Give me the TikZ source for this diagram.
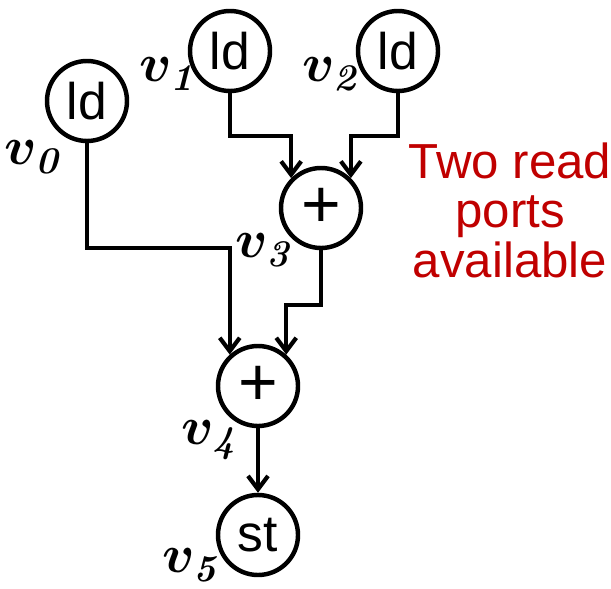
\RequirePackage{fix-cm}
\documentclass[tikz,border=0pt]{standalone}
\usepackage[no-math]{fontspec}
\setmainfont{Liberation Sans}
\usetikzlibrary{arrows.meta}
\definecolor{portred}{RGB}{192,0,0}
\begin{document}
\begin{tikzpicture}[x=0.03cm,y=-0.03cm,
  op/.style={draw,circle,line width=3.8pt,minimum size=2.4cm,inner sep=0pt,font=\fontsize{44}{44}\selectfont},
  plusop/.style={op,font=\fontsize{58}{58}\selectfont},
  lbl/.style={inner sep=0pt,font=\fontsize{46}{46}\selectfont\boldmath},
  arr/.style={line width=3.6pt,-{Straight Barb[length=0.4cm,width=0.6cm]}},
  note/.style={align=center,text=portred,inner sep=0pt,font=\fontsize{42}{42}\selectfont}]
\useasboundingbox (0,0) rectangle (611,589);
\node[op] (v0) at (87,101) {ld};
\node[op] (v1) at (230,51) {ld};
\node[op] (v2) at (398,51) {ld};
\node[plusop] (v3) at (321,208) {+};
\node[plusop] (v4) at (258,386) {+};
\node[op] (v5) at (258,535) {st};
\node[lbl] (l0) at (34,157) {$v_{\mathit{0}}$};
\node[lbl] (l1) at (169,74) {$v_{\mathit{1}}$};
\node[lbl] (l2) at (332,74) {$v_{\mathit{2}}$};
\node[lbl] (l3) at (265,250) {$v_{\mathit{3}}$};
\node[lbl] (l4) at (211,440) {$v_{\mathit{4}}$};
\node[lbl] (l5) at (192,565) {$v_{\mathit{5}}$};
\node[note,anchor=base] (n) at (510,277) {Two read\\ports\\available};
\draw[arr] (v0.south) -- (v0.south |- 0,248) -| (v4.132);
\draw[arr] (v3.south) -- (v3.south |- 0,305) -| (v4.48);
\draw[arr] (v1.south) -- (v1.south |- 0,136) -| (v3.135);
\draw[arr] (v2.south) -- (v2.south |- 0,136) -| (v3.45);
\draw[arr] (v4) -- (v5);
\end{tikzpicture}
\end{document}
